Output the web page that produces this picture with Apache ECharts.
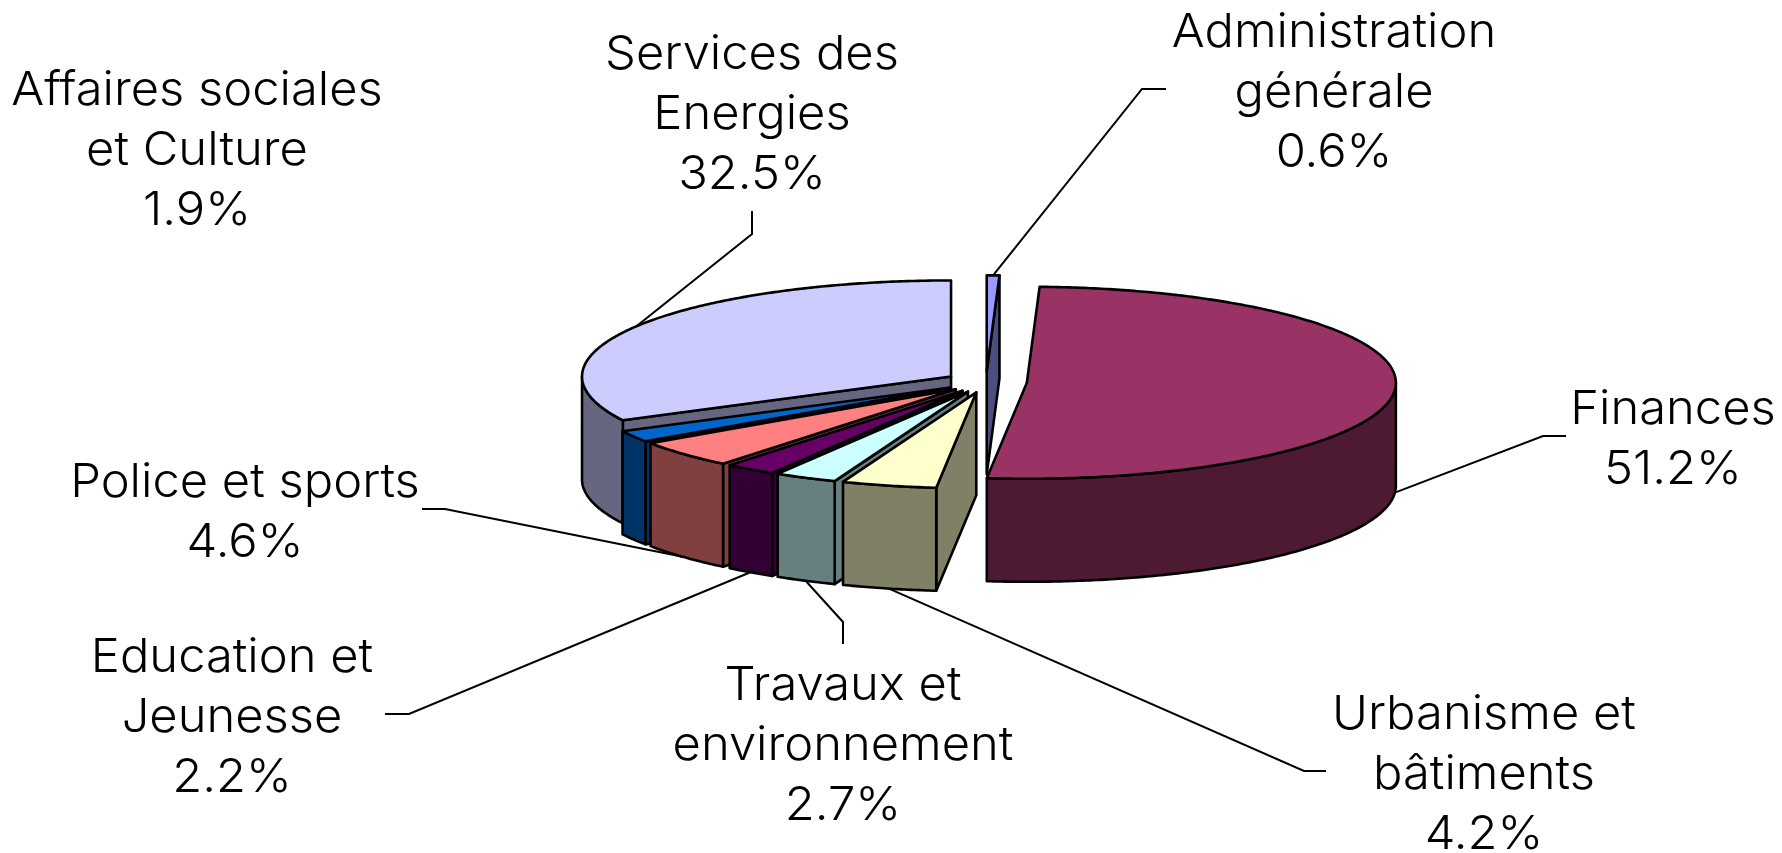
<!DOCTYPE html>
<html>
<head>
<meta charset="utf-8">
<style>
  html, body { margin: 0; padding: 0; background: #fff; }
  #chart { width: 1782px; height: 853px; }
</style>
<script src="https://cdn.jsdelivr.net/npm/echarts@6/dist/echarts.min.js"></script>
</head>
<body>
<div id="chart"></div>
<script>
const categories = ["Administration\ngénérale", "Finances", "Urbanisme et\nbâtiments", "Travaux et\nenvironnement",
  "Education et\nJeunesse", "Police et sports", "Affaires sociales\net Culture", "Services des\nEnergies"];
const values = [0.55, 51.16, 4.15, 2.74, 2.24, 4.64, 1.94, 32.54];

// styles
const topColors = ["#9999ff", "#993366", "#ffffcc", "#ccffff", "#660066", "#ff8080", "#0066cc", "#ccccff"];
const sideColors = ["#4d4d80", "#4d1933", "#808066", "#668080", "#330033", "#804040", "#003366", "#666680"];

// layout of the tilted pie, in pixels
const pie = {cx: 986, cy: 382, rx: 369, ry: 96, depth: 103, explode: 0.111};
const labelCenters = [[1334, 93], [1673, 440], [1484, 775], [843, 746], [232, 718], [245, 513], [197, 151], [752, 115]];
// leader: outer end, then elbow. Affaires sociales has none in the original
const leaders = [[[1166, 89], [1142, 89]], [[1566, 436], [1543, 436]], [[1326, 771], [1304, 771]], [[843, 644], [843, 622]],
  [[385, 714], [409, 714]], [[422, 509], [445, 509]], null, [[752, 211], [752, 234]]];

const total = values.reduce((a, b) => a + b, 0);
const toAngle = v => v / total * Math.PI * 2;

// cumulative start angle of each slice
const starts = [];
values.reduce((sum, v, i) => {
  starts[i] = sum;
  return sum + toAngle(v);
}, 0);

function apexOf(i) {
  const mid = starts[i] + toAngle(values[i]) / 2;
  return [pie.cx + pie.explode * pie.rx * Math.sin(mid), pie.cy - pie.explode * pie.ry * Math.cos(mid)];
}

function rimPoint(apex, a, drop) {
  return [apex[0] + pie.rx * Math.sin(a), apex[1] - pie.ry * Math.cos(a) + (drop || 0)];
}

function arcPoints(apex, from, to, drop) {
  const pts = [];
  const n = Math.max(2, Math.ceil((to - from) / 0.01));
  for (let k = 0; k <= n; k++) {
    pts.push(rimPoint(apex, from + (to - from) * k / n, drop));
  }
  return pts;
}

function face(points, color) {
  return {
    type: "polygon",
    shape: {points: points},
    style: {fill: color, stroke: "#000", lineWidth: 2.6, lineJoin: "round"}
  };
}

function wall(apex, a, color) {
  const rim = rimPoint(apex, a);
  return face([apex, rim, [rim[0], rim[1] + pie.depth], [apex[0], apex[1] + pie.depth]], color);
}

function renderSlice(params, api) {
  const i = api.value(0);
  const from = starts[i];
  const to = from + toAngle(api.value(1));
  const apex = apexOf(i);
  const children = [];

  // start wall shows on the left half, end wall on the right half
  if (Math.sin(from) < -1e-6) children.push(wall(apex, from, sideColors[i]));
  if (Math.sin(to) > 1e-6) children.push(wall(apex, to, sideColors[i]));

  // outer side, only the front half of the rim
  const a0 = Math.max(from, Math.PI / 2);
  const a1 = Math.min(to, Math.PI * 1.5);
  if (a1 > a0) {
    children.push(face(arcPoints(apex, a0, a1, 0).concat(arcPoints(apex, a0, a1, pie.depth).reverse()), sideColors[i]));
  }

  children.push(face([apex].concat(arcPoints(apex, from, to, 0)), topColors[i]));
  return {type: "group", children: children};
}

function renderLabel(params, api) {
  const i = api.value(0);
  const children = [];
  if (leaders[i]) {
    const mid = starts[i] + toAngle(api.value(1)) / 2;
    const front = Math.cos(mid) < 0;
    const anchor = rimPoint(apexOf(i), mid, front ? pie.depth : 0);
    children.push({
      type: "polyline",
      shape: {points: [leaders[i][0], leaders[i][1], anchor]},
      style: {fill: null, stroke: "#000", lineWidth: 2}
    });
  }
  children.push({
    type: "text",
    x: labelCenters[i][0],
    y: labelCenters[i][1],
    scaleX: 1.04,
    style: {
      text: categories[i] + "\n" + api.value(1).toFixed(1) + "%",
      align: "center",
      verticalAlign: "middle",
      fontFamily: "Inter",
      fontWeight: 300,
      fontSize: 47,
      lineHeight: 60,
      fill: "#000"
    }
  });
  return {type: "group", children: children};
}

const rows = values.map((v, i) => [i, v]);

const chart = echarts.init(document.getElementById("chart"));
chart.setOption({
  backgroundColor: "#fff",
  animation: false,
  series: [
    {type: "custom", coordinateSystem: "none", silent: true, z: 1, renderItem: renderLabel, data: rows},
    // back slices first so the front ones overlap them
    {type: "custom", coordinateSystem: "none", silent: true, z: 2, renderItem: renderSlice, data: rows.slice().reverse()}
  ]
});
</script>
</body>
</html>
